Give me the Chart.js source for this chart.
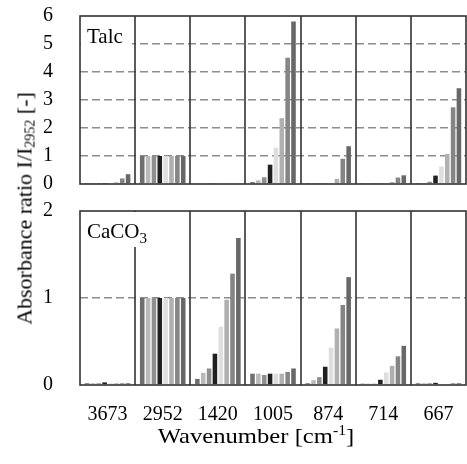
<!DOCTYPE html>
<html>
<head>
<meta charset="utf-8">
<script src="https://cdn.jsdelivr.net/npm/chart.js@4.4.0/dist/chart.umd.min.js"></script>
<style>
html, body { margin: 0; padding: 0; background: #fff; }
#wrap { position: relative; width: 467px; height: 464px; overflow: hidden; }
#talcChart { position: absolute; left: 0; top: 0; }
#caco3Chart { position: absolute; left: 0; top: 195px; }
.ttl { position: absolute; font-family: "Liberation Serif", "Times New Roman", serif; font-size: 22px; line-height: 25px; color: #000; white-space: nowrap; text-align: center; }
#xtitle { left: 56px; width: 400px; top: 423px; transform: scaleX(1.12); }
#ytitle { left: -126px; top: 196px; width: 300px; height: 25px; transform: rotate(-90deg); }
.ttl sub, .ttl sup { font-size: 14px; line-height: 0; }
.ttl sup { vertical-align: 8px; }
.ttl sub { vertical-align: -3px; }
</style>
</head>
<body>
<div id="wrap">
  <canvas id="talcChart" width="467" height="200"></canvas>
  <canvas id="caco3Chart" width="467" height="269"></canvas>
  <div class="ttl" id="ytitle">Absorbance ratio I/I<sub>2952</sub> [-]</div>
  <div class="ttl" id="xtitle">Wavenumber [cm<sup>-1</sup>]</div>
</div>
<script>
// wavenumber groups (cm-1)
const wavenumbers = ["3673", "2952", "1420", "1005", "874", "714", "667"]

// talc, one array per sample (bar position inside each group)
const talc1 = [0.01, 1, 0.02, 0.07, 0.01, 0.01, 0.01]
const talc2 = [0.01, 1, 0.02, 0.13, 0.01, 0.01, 0.01]
const talc3 = [0.01, 1, 0.01, 0.24, 0.01, 0.01, 0.08]
const talc4 = [0.01, 1, 0.02, 0.69, 0.02, 0.02, 0.30]
const talc5 = [0.02, 1, 0.01, 1.30, 0.02, 0.02, 0.63]
const talc6 = [0.06, 1, 0.02, 2.35, 0.18, 0.07, 1.07]
const talc7 = [0.20, 1, 0.02, 4.51, 0.90, 0.23, 2.74]
const talc8 = [0.35, 1, 0.02, 5.80, 1.35, 0.31, 3.42]

// CaCO3, same samples
const caco1 = [0.02, 1, 0.07, 0.13, 0.02, 0.015, 0.02]
const caco2 = [0.02, 1, 0.14, 0.13, 0.055, 0.015, 0.02]
const caco3 = [0.02, 1, 0.19, 0.115, 0.09, 0.015, 0.02]
const caco4 = [0.03, 1, 0.36, 0.13, 0.21, 0.06, 0.025]
const caco5 = [0.02, 1, 0.67, 0.13, 0.43, 0.145, 0.005]
const caco6 = [0.02, 1, 0.98, 0.13, 0.65, 0.22, 0]
const caco7 = [0.02, 1, 1.28, 0.15, 0.92, 0.33, 0.02]
const caco8 = [0.02, 1, 1.69, 0.19, 1.24, 0.45, 0.02]

const talcMax = 6, cacoMax = 2

const barColors = ["#6e6e6e", "#b9b9b9", "#8f8f8f", "#202020", "#dedede", "#b0b0b0", "#858585", "#686868"]
const serif = "Liberation Serif"

const makeSets = (arrs) => arrs.map((d, i) => ({
    data: d,
    backgroundColor: barColors[i],
    borderWidth: 0,
    categoryPercentage: 0.85,
    barPercentage: 0.78
}))

// group separators, white label box, panel label and frame
const panelDeco = {
    id: 'panelDeco',
    afterDatasetsDraw(chart, args, opts) {
        const {ctx, chartArea: a} = chart, x = chart.scales.x
        ctx.save()
        ctx.strokeStyle = '#333'
        ctx.lineWidth = 1.6
        for (let i = 1; i < wavenumbers.length; i++) {
            const px = Math.round((x.getPixelForTick(i - 1) + x.getPixelForTick(i)) / 2)
            ctx.beginPath()
            ctx.moveTo(px, a.top)
            ctx.lineTo(px, a.bottom)
            ctx.stroke()
        }
        ctx.fillStyle = '#fff'
        ctx.fillRect(a.left + 1, a.top + 1, opts.boxW, opts.boxH)
        ctx.fillStyle = '#000'
        ctx.font = `21px "${serif}"`
        ctx.fillText(opts.label, a.left + 7, a.top + 27)
        if (opts.sub) {
            const w = ctx.measureText(opts.label).width
            ctx.font = `15px "${serif}"`
            ctx.fillText(opts.sub, a.left + 7 + w, a.top + 32)
        }
        ctx.strokeRect(a.left, a.top, a.right - a.left, a.bottom - a.top)
        ctx.restore()
    }
}

const yAxis = (max) => ({
    min: 0,
    max: max,
    ticks: {stepSize: 1, padding: 27, color: '#000', font: {family: serif, size: 20}},
    grid: {
        color: c => (c.tick.value > 0 && c.tick.value < max) ? '#8c8c8c' : 'rgba(0,0,0,0)',
        lineWidth: 1.5,
        drawTicks: false
    },
    border: {display: false, dash: [8, 4]},
    afterFit: s => {
        s.width = 80
        s.paddingTop = 0
        s.paddingBottom = 0
    }
})

new Chart(document.getElementById('talcChart'), {
    type: 'bar',
    data: {labels: wavenumbers, datasets: makeSets([talc1, talc2, talc3, talc4, talc5, talc6, talc7, talc8])},
    options: {
        responsive: false,
        animation: false,
        layout: {padding: {top: 16, bottom: 16, left: 0, right: 1}},
        plugins: {legend: {display: false}, tooltip: {enabled: false}, panelDeco: {label: 'Talc', boxW: 51, boxH: 34}},
        scales: {x: {display: false}, y: yAxis(talcMax)}
    },
    plugins: [panelDeco]
})

new Chart(document.getElementById('caco3Chart'), {
    type: 'bar',
    data: {labels: wavenumbers, datasets: makeSets([caco1, caco2, caco3, caco4, caco5, caco6, caco7, caco8])},
    options: {
        responsive: false,
        animation: false,
        layout: {padding: {top: 16, bottom: 0, left: 0, right: 1}},
        plugins: {legend: {display: false}, tooltip: {enabled: false}, panelDeco: {label: 'CaCO', sub: '3', boxW: 74, boxH: 35}},
        scales: {
            x: {
                grid: {display: false, drawTicks: false},
                border: {display: false},
                ticks: {padding: 18, color: '#000', font: {family: serif, size: 20}, maxRotation: 0, autoSkip: false},
                afterFit: s => {
                    s.height = 79
                    s.paddingLeft = 0
                    s.paddingRight = 0
                }
            },
            y: yAxis(cacoMax)
        }
    },
    plugins: [panelDeco]
})
</script>
</body>
</html>
